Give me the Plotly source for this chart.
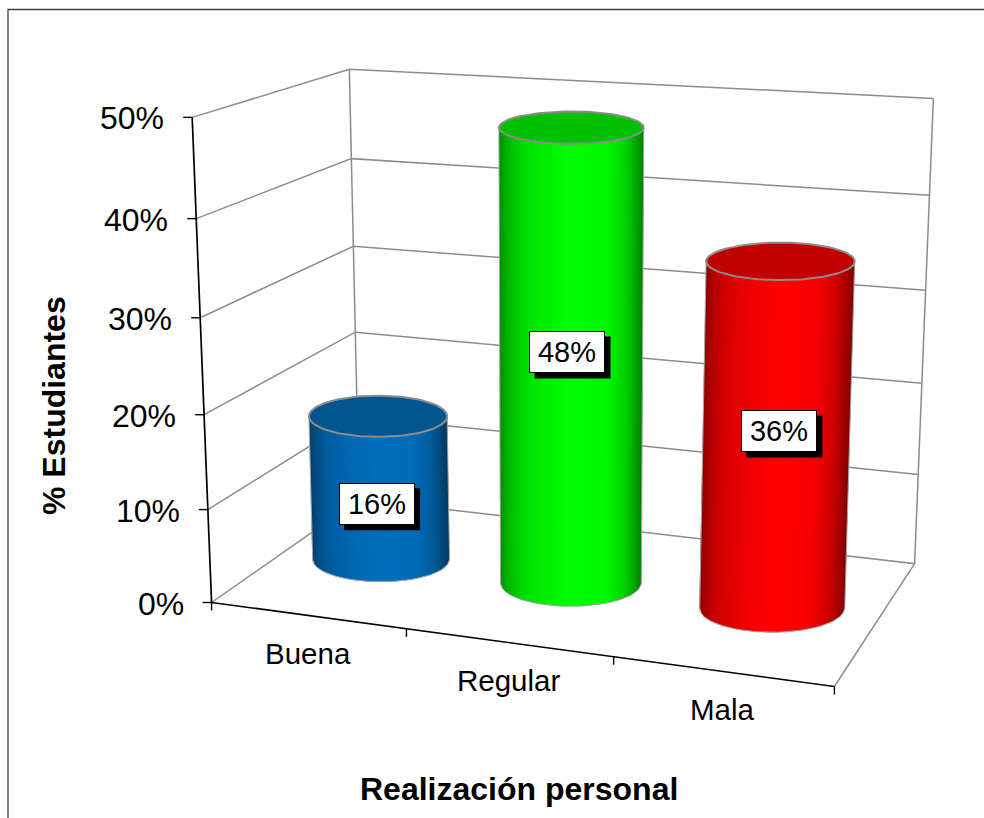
'''
    Cylinder chart of "Realización personal", drawn with a fitted perspective.
'''

import numpy as np
import plotly.graph_objects as go

categories = ['Buena', 'Regular', 'Mala']
values = [16, 48, 36]
value_labels = ['16%', '48%', '36%']
z_ticks = [0, 10, 20, 30, 40, 50]
z_tick_labels = ['0%', '10%', '20%', '30%', '40%', '50%']
base_colors = [(0, 112, 192), (0, 255, 0), (255, 0, 0)]

FONT = 'Liberation Sans'
GREY = '#8c8c8c'

# world (category position, depth, percent) -> pixel, used to fit the camera
world_pts = [(0, 0, 0), (3, 0, 0), (0, 1, 0), (3, 1, 0), (0, 0, 50), (0, 1, 50),
             (3, 1, 50), (0, 1, 40), (0, 0, 10), (0, 1, 20), (1, 0, 0), (2, 0, 0)]
pixel_pts = [(212, 601), (834, 684.5), (359, 499), (915, 563), (192, 117), (349.5, 70),
             (933.5, 98.5), (351.5, 158), (208, 508), (354.6, 333), (407, 632), (613, 659)]


def fit_camera(world, pixel):
    rows, rhs = [], []
    for (x, y, z), (u, v) in zip(world, pixel):
        rows.append([x, y, z, 1, 0, 0, 0, 0, -u * x, -u * y, -u * z])
        rows.append([0, 0, 0, 0, x, y, z, 1, -v * x, -v * y, -v * z])
        rhs += [u, v]
    p = np.linalg.lstsq(np.array(rows, float), np.array(rhs, float), rcond=None)[0]
    return np.append(p, 1).reshape(3, 4)


CAM = fit_camera(world_pts, pixel_pts)


def project(x, y, z):
    x, y, z = np.broadcast_arrays(np.asarray(x, float), np.asarray(y, float), np.asarray(z, float))
    pts = CAM @ np.stack([x, y, z, np.ones_like(x)])
    return pts[0] / pts[2], pts[1] / pts[2]


def add_line(fig, x, y, z, color, width):
    px, py = project(x, y, z)
    fig.add_trace(go.Scatter(x=px, y=py, mode='lines', line=dict(color=color, width=width),
                             hoverinfo='skip'))


def shade(color, u):
    # Brightness across the cylinder, from left edge to right edge
    f = np.interp(u, [0, 0.05, 0.15, 0.3, 0.5, 0.75, 0.88, 0.95, 1],
                  [0.55, 0.7, 0.85, 0.93, 1, 0.97, 0.82, 0.65, 0.5])
    return 'rgb(%d,%d,%d)' % tuple(c * f for c in color)


def ellipse_at(center, z, rx=0.35, cy=0.5):
    # The caps stay level on screen: centre from the camera, axes from the local scale
    cx_px, cy_px = project(center, cy, z)
    left, _ = project(center - rx, cy, z)
    right, _ = project(center + rx, cy, z)
    _, front = project(center, 0, z)
    _, back = project(center, 1, z)
    return float(cx_px), float(cy_px), 0.52 * float(right - left) / 2 + 35, 9 + 0.13 * float(front - back)


def add_cylinder(fig, center, value, color, n=70):
    bx, by, ba, bb = ellipse_at(center, 0)
    tx, ty, ta, tb = ellipse_at(center, value)
    edges = np.linspace(-1, 1, n + 1)
    for k in range(n):
        # Each strip reaches under the next one, so no seam shows between them
        c0, c1 = edges[k], edges[min(k + 2, n)]
        s0, s1 = np.sqrt(1 - c0 ** 2), np.sqrt(1 - c1 ** 2)
        px = [bx + ba * c0, bx + ba * c1, tx + ta * c1, tx + ta * c0]
        py = [by + bb * s0, by + bb * s1, ty + tb * s1, ty + tb * s0]
        fig.add_trace(go.Scatter(x=px, y=py, mode='lines', fill='toself',
                                 fillcolor=shade(color, (k + 0.5) / n),
                                 line=dict(width=0), hoverinfo='skip'))
    # Outline of the sides and of the front of the base
    arc = np.linspace(np.pi, 0, 60)
    fig.add_trace(go.Scatter(x=np.r_[tx - ta, bx + ba * np.cos(arc), tx + ta],
                             y=np.r_[ty, by + bb * np.sin(arc), ty],
                             mode='lines', line=dict(color='#a6a6a6', width=1), hoverinfo='skip'))
    # Top cap
    ring = np.linspace(0, 2 * np.pi, 121)
    top = 'rgb(%d,%d,%d)' % tuple(c * 0.76 for c in color)
    fig.add_trace(go.Scatter(x=tx + ta * np.cos(ring), y=ty + tb * np.sin(ring), mode='lines',
                             fill='toself', fillcolor=top, line=dict(color=GREY, width=2),
                             hoverinfo='skip'))


fig = go.Figure()

# Frame of the chart area
fig.add_trace(go.Scatter(x=[8, 8, 984], y=[818, 9.5, 9.5], mode='lines',
                         line=dict(color='#404040', width=1.3), hoverinfo='skip'))

# Walls: gridlines on the back and side wall, then the floor edges
for tick in z_ticks[1:]:
    add_line(fig, [0, 0, 3], [0, 1, 1], [tick, tick, tick], GREY, 1.5)
add_line(fig, [0, 0, 3, 3], [0, 1, 1, 0], [0, 0, 0, 0], GREY, 1.5)
add_line(fig, [0, 0], [1, 1], [0, 50], GREY, 1.5)
add_line(fig, [3, 3], [1, 1], [0, 50], GREY, 1.5)

# Black axes
add_line(fig, [0, 0], [0, 0], [0, 50], 'black', 1.7)
add_line(fig, [0, 3], [0, 0], [0, 0], 'black', 1.7)

tick_x, tick_y = [], []
for tick in z_ticks:
    px, py = project(0, 0, tick)
    tick_x += [float(px) - 9, float(px), None]
    tick_y += [float(py), float(py), None]
for pos in range(len(categories) + 1):
    px, py = project(pos, 0, 0)
    tick_x += [float(px), float(px), None]
    tick_y += [float(py), float(py) + 8, None]
fig.add_trace(go.Scatter(x=tick_x, y=tick_y, mode='lines', line=dict(color='black', width=1.4),
                         hoverinfo='skip'))

for i, (value, color) in enumerate(zip(values, base_colors)):
    add_cylinder(fig, i + 0.5, value, color)

annotations = []
for tick, label in zip(z_ticks, z_tick_labels):
    px, py = project(0, 0, tick)
    annotations.append(dict(x=float(px) - 26, y=float(py) + 1, text=label, xanchor='right', yanchor='middle',
                            showarrow=False, font=dict(family=FONT, size=32, color='black')))
for i, name in enumerate(categories):
    px, py = project(i + 0.5, 0, 0)
    annotations.append(dict(x=float(px), y=float(py) + 38, text=name, xanchor='center', yanchor='middle',
                            showarrow=False, font=dict(family=FONT, size=29.5, color='black')))

# Where the labels sit on each cylinder (category position, percent)
label_spots = [(0.483, 6.2), (1.48, 24.9), (2.512, 18.75)]
for (spot_x, spot_z), label in zip(label_spots, value_labels):
    px, py = project(spot_x, 0.5, spot_z)
    px, py = float(px), float(py)
    # Black drop shadow behind the white label
    fig.add_trace(go.Scatter(x=[px - 32.5, px + 43.5, px + 43.5, px - 32.5],
                             y=[py - 15.5, py - 15.5, py + 26.5, py + 26.5],
                             mode='lines', fill='toself', fillcolor='black', line=dict(color='black', width=0),
                             hoverinfo='skip'))
    annotations.append(dict(x=px, y=py, text=label, width=74, height=40, bgcolor='white',
                            bordercolor='black', borderwidth=1, borderpad=0, showarrow=False,
                            align='center', valign='middle',
                            font=dict(family=FONT, size=29, color='black')))
annotations.append(dict(x=519, y=789, text='<b>Realización personal</b>', showarrow=False,
                        font=dict(family=FONT, size=32, color='black')))
annotations.append(dict(x=54, y=406, text='<b>% Estudiantes</b>', textangle=-90, showarrow=False,
                        font=dict(family=FONT, size=32, color='black')))

fig.update_layout(
    width=984, height=818, margin=dict(l=0, r=0, t=0, b=0),
    paper_bgcolor='white', plot_bgcolor='white', showlegend=False,
    xaxis=dict(range=[0, 984], visible=False, fixedrange=True),
    yaxis=dict(range=[818, 0], visible=False, fixedrange=True),
    annotations=annotations,
)

fig.write_html('out.html', config={'displayModeBar': False},
               post_script="document.body.style.margin='0';")
